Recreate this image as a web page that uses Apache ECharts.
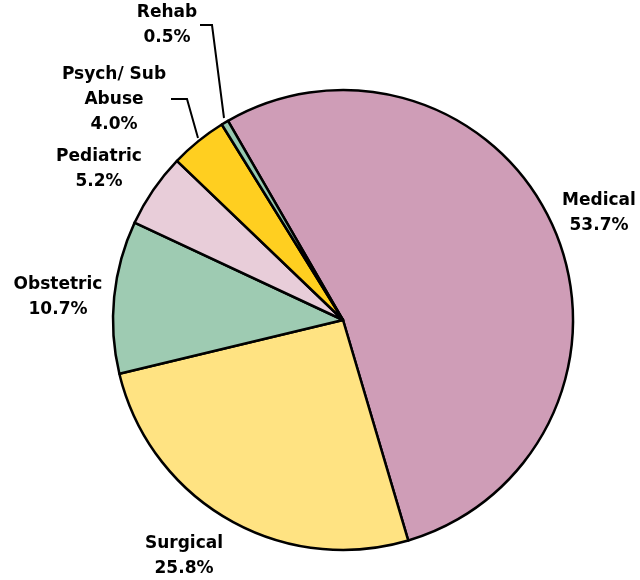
<!DOCTYPE html>
<html>
<head>
<meta charset="utf-8">
<script src="https://cdn.jsdelivr.net/npm/echarts@6/dist/echarts.min.js"></script>
<style>html,body{margin:0;padding:0;background:#fff;}#c{width:640px;height:580px;}</style>
</head>
<body>
<div id="c"></div>
<script>
var categories = ['Medical', 'Surgical', 'Obstetric', 'Pediatric', 'Psych/ Sub\nAbuse', 'Rehab'];
var values = [53.7, 25.8, 10.7, 5.2, 4.0, 0.5];
var colors = ['#CF9DB7', '#FFE382', '#9ECBB2', '#E8CDD9', '#FFCF20', '#96CAB0'];
var showLine = [false, false, false, false, true, true];

var labelX = [599, 184, 58, 99, 114, 167];
var labelY = [213, 556, 297, 169, 100, 25];
var linePts = [null, null, null, null, [[171, 99], [187, 99], [198, 138]], [[200, 25], [212, 25], [224, 118]]];

var chart = echarts.init(document.getElementById('c'));
chart.setOption({
  animation: false,
  series: [{
    type: 'pie',
    center: [343, 320],
    radius: 230,
    startAngle: 120,
    clockwise: true,
    avoidLabelOverlap: false,
    itemStyle: { borderColor: '#000', borderWidth: 2.5 },
    label: {
      show: true,
      position: 'outside',
      fontFamily: 'DejaVu Sans',
      fontWeight: 'bold',
      fontSize: 17,
      lineHeight: 25,
      color: '#000',
      align: 'center',
      formatter: function (p) { return p.name + '\n' + p.value.toFixed(1) + '%'; }
    },
    labelLine: { show: true, lineStyle: { color: '#000', width: 2 } },
    labelLayout: function (params) {
      var i = params.dataIndex;
      var o = { x: labelX[i], y: labelY[i], align: 'center', verticalAlign: 'middle' };
      if (linePts[i]) o.labelLinePoints = linePts[i];
      return o;
    },
    data: categories.map(function (c, i) {
      return {
        name: c,
        value: values[i],
        itemStyle: { color: colors[i] },
        labelLine: { show: showLine[i] }
      };
    })
  }]
});
</script>
</body>
</html>
